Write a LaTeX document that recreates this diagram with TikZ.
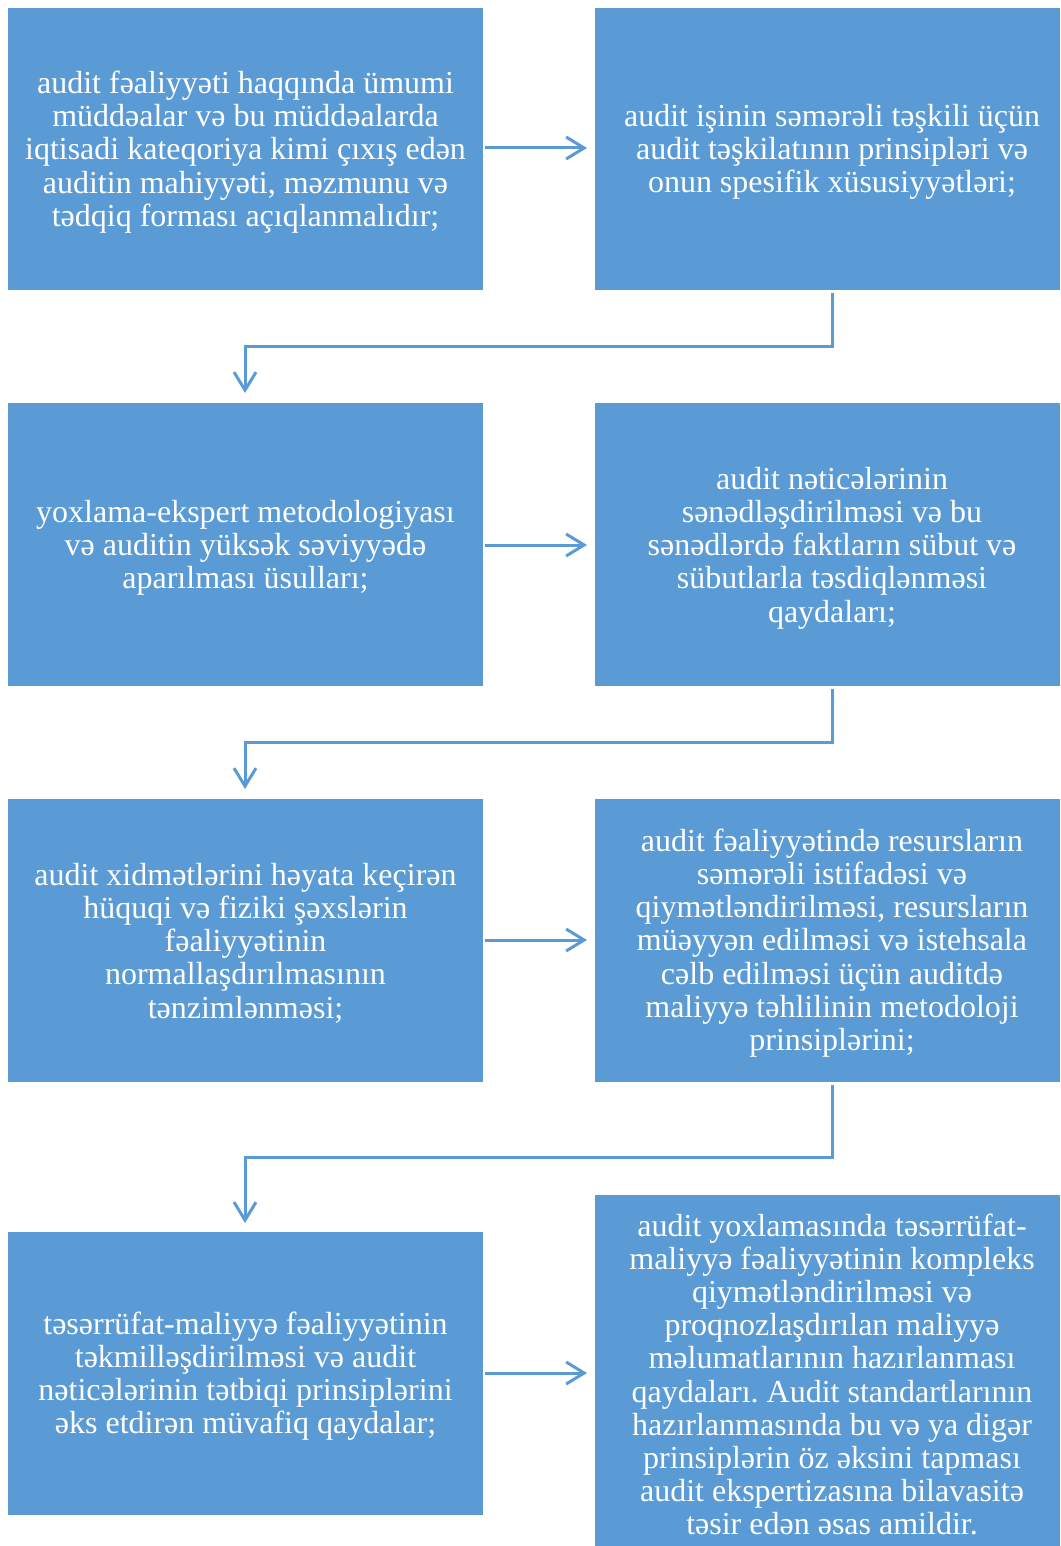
\documentclass[tikz,border=0pt]{standalone}
\usepackage{fontspec}
\setmainfont{Liberation Serif}
\usetikzlibrary{arrows.meta}
\definecolor{boxblue}{HTML}{5B9BD5}
\definecolor{linkblue}{HTML}{5B9BD5}
\tikzset{
  x=1pt, y=-1pt,
  blockbox/.style={fill=boxblue, draw=none},
  blocktext/.style={text=white, align=center, font=\fontsize{32}{33.2}\selectfont\frenchspacing, inner sep=0pt},
  link/.style={draw=linkblue, line width=3pt, -{Straight Barb[length=18pt, width=22pt, line width=3pt]}},
}
\begin{document}
\begin{tikzpicture}
\useasboundingbox (0,0) rectangle (1060,1546);
% boxes
\path[blockbox] (8,8) rectangle (483,290);
\path[blockbox] (595,8) rectangle (1060,290);
\path[blockbox] (8,403) rectangle (483,686);
\path[blockbox] (595,403) rectangle (1060,686);
\path[blockbox] (8,799) rectangle (483,1082);
\path[blockbox] (595,799) rectangle (1060,1082);
\path[blockbox] (8,1232) rectangle (483,1515);
\path[blockbox] (595,1195) rectangle (1060,1546);
% texts
\node[blocktext] (t1) at (245.5,152) {audit fəaliyyəti haqqında ümumi\\müddəalar və bu müddəalarda\\iqtisadi kateqoriya kimi çıxış edən\\auditin mahiyyəti, məzmunu və\\tədqiq forması açıqlanmalıdır;};
\node[blocktext] (t2) at (832,152) {audit işinin səmərəli təşkili üçün\\audit təşkilatının prinsipləri və\\onun spesifik xüsusiyyətləri;};
\node[blocktext] (t3) at (245.5,548) {yoxlama-ekspert metodologiyası\\və auditin yüksək səviyyədə\\aparılması üsulları;};
\node[blocktext] (t4) at (832,548) {audit nəticələrinin\\sənədləşdirilməsi və bu\\sənədlərdə faktların sübut və\\sübutlarla təsdiqlənməsi\\qaydaları;};
\node[blocktext] (t5) at (245.5,943) {audit xidmətlərini həyata keçirən\\hüquqi və fiziki şəxslərin\\fəaliyyətinin\\normallaşdırılmasının\\tənzimlənməsi;};
\node[blocktext] (t6) at (832,943) {audit fəaliyyətində resursların\\səmərəli istifadəsi və\\qiymətləndirilməsi, resursların\\müəyyən edilməsi və istehsala\\cəlb edilməsi üçün auditdə\\maliyyə təhlilinin metodoloji\\prinsiplərini;};
\node[blocktext] (t7) at (245.5,1376) {təsərrüfat-maliyyə fəaliyyətinin\\təkmilləşdirilməsi və audit\\nəticələrinin tətbiqi prinsiplərini\\əks etdirən müvafiq qaydalar;};
\node[blocktext] (t8) at (832,1374.5) {audit yoxlamasında təsərrüfat-\\maliyyə fəaliyyətinin kompleks\\qiymətləndirilməsi və\\proqnozlaşdırılan maliyyə\\məlumatlarının hazırlanması\\qaydaları. Audit standartlarının\\hazırlanmasında bu və ya digər\\prinsiplərin öz əksini tapması\\audit ekspertizasına bilavasitə\\təsir edən əsas amildir.};
% connector end points
\coordinate (a1s) at (485,148);  \coordinate (a1e) at (587,148);
\coordinate (a2s) at (485,545);  \coordinate (a2e) at (587,545);
\coordinate (a3s) at (485,940);  \coordinate (a3e) at (587,940);
\coordinate (a4s) at (485,1373); \coordinate (a4e) at (587,1373);
\coordinate (d1s) at (832,293);  \coordinate (d1e) at (245,393);
\coordinate (d2s) at (832,689);  \coordinate (d2e) at (245,789);
\coordinate (d3s) at (832,1085); \coordinate (d3e) at (245,1223);
% connectors
\draw[link] (a1s) -- (a1e);
\draw[link] (a2s) -- (a2e);
\draw[link] (a3s) -- (a3e);
\draw[link] (a4s) -- (a4e);
\draw[link] (d1s) -- (832,346) -- (245,346) -- (d1e);
\draw[link] (d2s) -- (832,742) -- (245,742) -- (d2e);
\draw[link] (d3s) -- (832,1157) -- (245,1157) -- (d3e);
\end{tikzpicture}
\end{document}
